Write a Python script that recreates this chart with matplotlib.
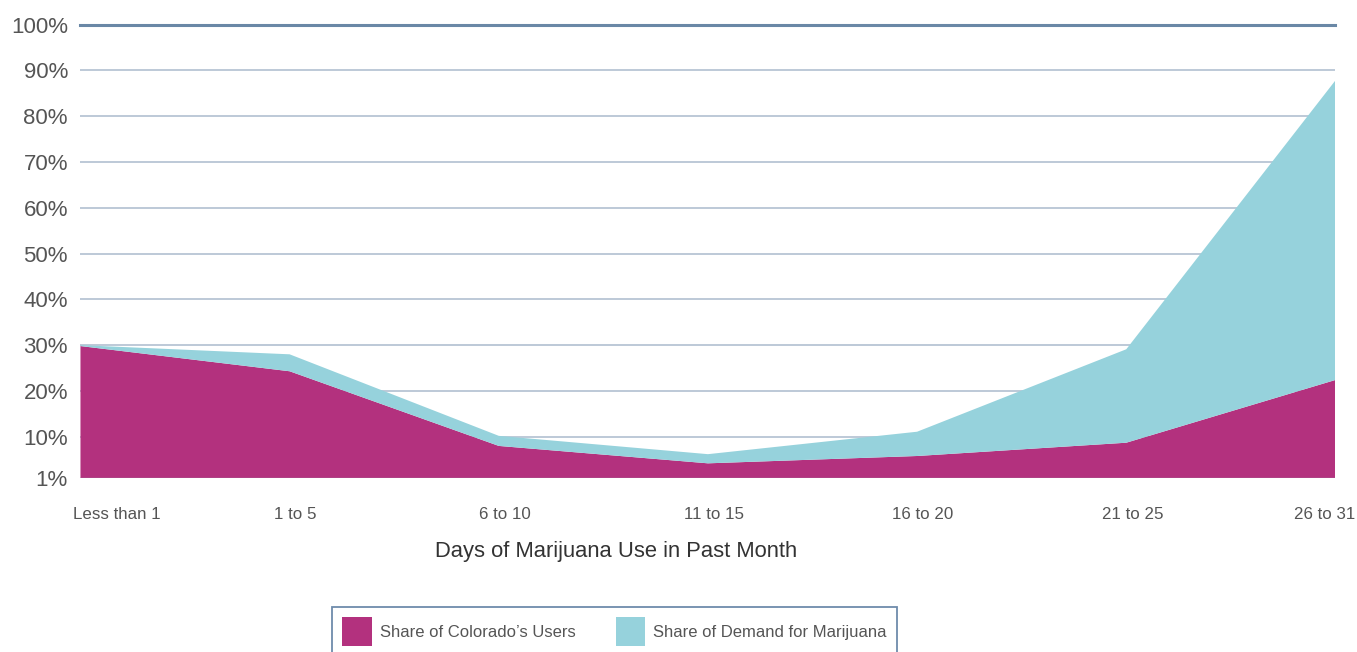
import matplotlib
matplotlib.use("Agg")
import matplotlib.pyplot as plt
import matplotlib.transforms as mtransforms
from matplotlib.patches import Patch

# share of users and share of total demand by days of use in the past month (%)
categories = ["Less than 1", "1 to 5", "6 to 10", "11 to 15", "16 to 20", "21 to 25", "26 to 31"]
users_share = [29.8, 24.3, 8.0, 4.2, 5.8, 8.7, 22.4]
demand_share = [0.2, 3.7, 2.2, 2.0, 5.3, 20.4, 65.4]
y_ticks = [1, 10, 20, 30, 40, 50, 60, 70, 80, 90, 100]
y_labels = [f"{t}%" for t in y_ticks]

MAGENTA = "#B3317E"
TEAL = "#96D2DC"
GRID = "#B7C5D4"
FONT = ["Liberation Sans", "DejaVu Sans"]

plt.rcParams["font.family"] = FONT

fig = plt.figure(figsize=(13.57, 6.52), dpi=100)
ax = fig.add_axes([0.0593, 0.2669, 0.9248, 0.6955])

x = list(range(len(categories)))
ax.stackplot(x, users_share, demand_share, colors=[MAGENTA, TEAL], linewidth=0, zorder=2)

ax.set_xlim(0, len(categories) - 1)
ax.set_ylim(1, 100)

# horizontal guides; the top one is heavier
for t in y_ticks[1:-1]:
    ax.axhline(t, color=GRID, linewidth=1.3, zorder=1)
ax.axhline(100, color="#6A88A6", linewidth=2.2, zorder=3, clip_on=False)
ax.axhline(1, color="#9A8AA6", linewidth=1.0, zorder=3)

for side in ax.spines.values():
    side.set_visible(False)

ax.set_yticks(y_ticks)
ax.set_yticklabels(y_labels, fontsize=16, color="#555555")
ax.set_xticks(x)
ax.set_xticklabels(categories, fontsize=12.2, color="#555555")
ax.tick_params(axis="y", length=0, pad=9)
ax.tick_params(axis="x", length=0, pad=21)

# first and last category labels sit flush with the plot edges
xlabels = ax.get_xticklabels()
xlabels[0].set_ha("left")
xlabels[0].set_transform(xlabels[0].get_transform()
                         + mtransforms.ScaledTranslation(-7 / 100, 0, fig.dpi_scale_trans))
xlabels[-1].set_ha("right")
xlabels[-1].set_transform(xlabels[-1].get_transform()
                          + mtransforms.ScaledTranslation(20 / 100, 0, fig.dpi_scale_trans))
for lab in xlabels[1:-1]:
    lab.set_transform(lab.get_transform()
                      + mtransforms.ScaledTranslation(6 / 100, 0, fig.dpi_scale_trans))

fig.text(616 / 1357, 1 - 551 / 652, "Days of Marijuana Use in Past Month",
         ha="center", va="center", fontsize=15.8, color="#333333")

handles = [Patch(facecolor=MAGENTA, edgecolor="none"), Patch(facecolor=TEAL, edgecolor="none")]
leg = fig.legend(handles, ["Share of Colorado\u2019s Users", "Share of Demand for Marijuana"],
                 loc="upper center", bbox_to_anchor=(614.5 / 1357, 1 - 607 / 652),
                 ncol=2, fontsize=12, frameon=True, fancybox=False,
                 handlelength=1.78, handleheight=2.3, handletextpad=0.48,
                 columnspacing=2.4, borderpad=0.6, borderaxespad=0)
leg.get_frame().set_edgecolor("#4A6E96")
leg.get_frame().set_linewidth(1.3)
for txt in leg.get_texts():
    txt.set_color("#555555")

fig.savefig("out.png", dpi=100)
